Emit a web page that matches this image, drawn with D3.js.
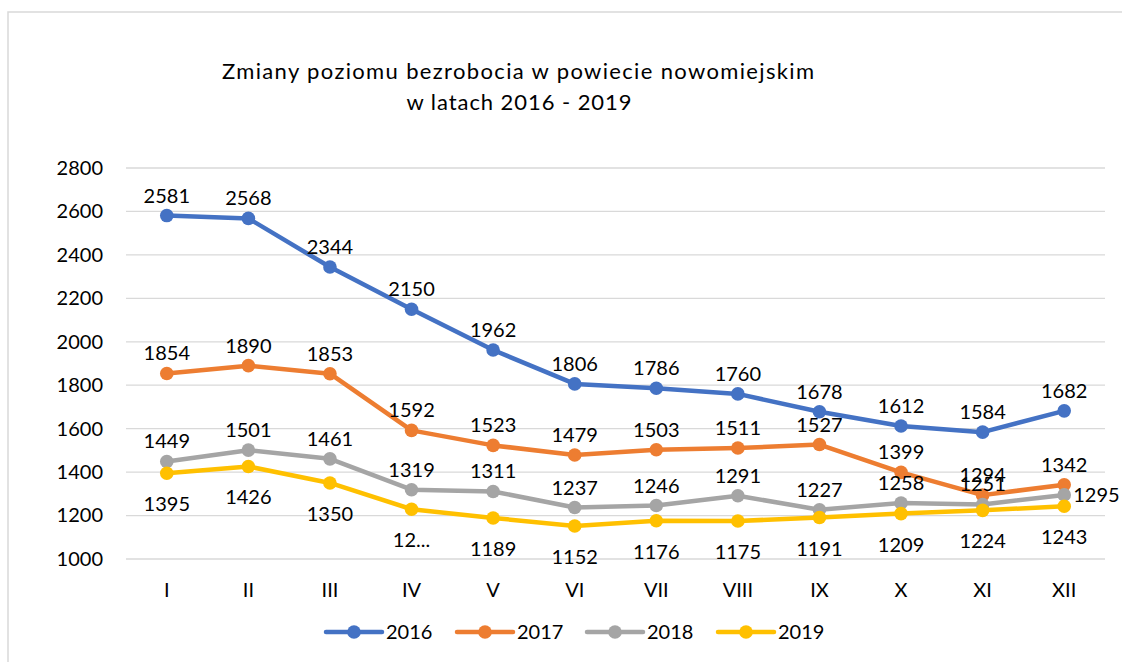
<!DOCTYPE html>
<html>
<head>
<meta charset="utf-8">
<script src="https://cdn.jsdelivr.net/npm/d3@7"></script>
<style>
  body { margin: 0; background: #fff; }
  svg { display: block; font-family: Lato, "Open Sans", sans-serif; }
</style>
</head>
<body>
<main></main>
<script>
const months = ["I", "II", "III", "IV", "V", "VI", "VII", "VIII", "IX", "X", "XI", "XII"]
const years = ["2016", "2017", "2018", "2019"]
const values2016 = [2581, 2568, 2344, 2150, 1962, 1806, 1786, 1760, 1678, 1612, 1584, 1682]
const values2017 = [1854, 1890, 1853, 1592, 1523, 1479, 1503, 1511, 1527, 1399, 1294, 1342]
const values2018 = [1449, 1501, 1461, 1319, 1311, 1237, 1246, 1291, 1227, 1258, 1251, 1295]
const values2019 = [1395, 1426, 1350, 1229, 1189, 1152, 1176, 1175, 1191, 1209, 1224, 1243]
// label text as shown (IV 2019 is cut off in the original)
const labels2019 = ["1395", "1426", "1350", "12...", "1189", "1152", "1176", "1175", "1191", "1209", "1224", "1243"]
const yTicks = [1000, 1200, 1400, 1600, 1800, 2000, 2200, 2400, 2600, 2800]
const colors = ["#4472C4", "#ED7D31", "#A5A5A5", "#FFC000"]

const series = [
  { name: years[0], values: values2016, labels: values2016.map(String), pos: "above" },
  { name: years[1], values: values2017, labels: values2017.map(String), pos: "above" },
  { name: years[2], values: values2018, labels: values2018.map(String), pos: "above" },
  { name: years[3], values: values2019, labels: labels2019, pos: "below" },
]

const w = 1122, h = 662
const margin = { top: 168, right: 17, bottom: 103, left: 126 }
const fs = 20

const svg = d3.select("main").append("svg").attr("width", w).attr("height", h)

// chart area border
svg.append("rect")
  .attr("x", 8).attr("y", 12)
  .attr("width", w + 20).attr("height", h + 20)
  .attr("fill", "none").attr("stroke", "#d9d9d9").attr("stroke-width", 1.5)

const x = d3.scaleBand().domain(months).range([margin.left, w - margin.right])
const y = d3.scaleLinear().domain([1000, 2800]).range([h - margin.bottom, margin.top])
const cx = (m) => x(m) + x.bandwidth() / 2

// title
const title = svg.append("text")
  .attr("text-anchor", "middle")
  .attr("font-size", 22)
  .attr("fill", "#000")
title.append("tspan").attr("x", 518).attr("y", 79)
  .attr("textLength", 592).attr("lengthAdjust", "spacing")
  .text("Zmiany poziomu bezrobocia w powiecie nowomiejskim")
title.append("tspan").attr("x", 519).attr("y", 110)
  .attr("textLength", 225).attr("lengthAdjust", "spacing")
  .text("w latach 2016 - 2019")

// gridlines
svg.append("g")
  .selectAll("line")
  .data(yTicks)
  .enter()
  .append("line")
  .attr("x1", margin.left).attr("x2", w - margin.right)
  .attr("y1", (d) => y(d)).attr("y2", (d) => y(d))
  .attr("stroke", "#d9d9d9").attr("stroke-width", 1.3)

// y axis labels
const yAxis = svg.append("g")
  .attr("transform", `translate(${margin.left - 23},0)`)
  .call(d3.axisLeft(y).tickValues(yTicks).tickFormat(d3.format("d")).tickSize(0).tickPadding(0))
yAxis.select(".domain").remove()
yAxis.selectAll("text")
  .attr("font-family", "Lato, sans-serif")
  .attr("font-size", fs)
  .attr("fill", "#000")

// x axis labels
const xAxis = svg.append("g")
  .attr("transform", `translate(0,${h - margin.bottom})`)
  .call(d3.axisBottom(x).tickSize(0).tickPadding(24))
xAxis.select(".domain").remove()
xAxis.selectAll("text")
  .attr("font-family", "Lato, sans-serif")
  .attr("font-size", fs)
  .attr("fill", "#000")

const line = d3.line().x((d, i) => cx(months[i])).y((d) => y(d))

series.forEach((s, k) => {
  const g = svg.append("g").attr("class", "series")
  g.append("path")
    .datum(s.values)
    .attr("d", line)
    .attr("fill", "none")
    .attr("stroke", colors[k])
    .attr("stroke-width", 4.5)
    .attr("stroke-linejoin", "round")
    .attr("stroke-linecap", "round")
  g.selectAll("circle")
    .data(s.values)
    .enter()
    .append("circle")
    .attr("cx", (d, i) => cx(months[i]))
    .attr("cy", (d) => y(d))
    .attr("r", 6.8)
    .attr("fill", colors[k])
})

// data labels
series.forEach((s, k) => {
  svg.append("g")
    .selectAll("text")
    .data(s.values)
    .enter()
    .append("text")
    .attr("font-size", fs)
    .attr("fill", "#000")
    .attr("text-anchor", (d, i) => (k === 2 && i === 11 ? "start" : "middle"))
    .attr("x", (d, i) => (k === 2 && i === 11 ? cx(months[i]) + 9 : cx(months[i])))
    .attr("y", (d, i) => {
      if (k === 2 && i === 11) return y(d) + 7
      return s.pos === "above" ? y(d) - 13 : y(d) + 38
    })
    .text((d, i) => s.labels[i])
})

// legend
const legendX = [326, 457, 587, 718]
const legendY = 632
const legend = svg.append("g").attr("id", "legend")
  .selectAll("g")
  .data(years)
  .enter()
  .append("g")
  .attr("transform", (d, i) => `translate(${legendX[i]},${legendY})`)
legend.append("line")
  .attr("x1", 0).attr("x2", 56).attr("y1", 0).attr("y2", 0)
  .attr("stroke", (d, i) => colors[i]).attr("stroke-width", 4.5)
  .attr("stroke-linecap", "round")
legend.append("circle")
  .attr("cx", 28).attr("cy", 0).attr("r", 6.8)
  .attr("fill", (d, i) => colors[i])
legend.append("text")
  .attr("x", 60).attr("y", 7)
  .attr("font-size", fs)
  .attr("fill", "#000")
  .text((d) => d)
</script>
</body>
</html>
